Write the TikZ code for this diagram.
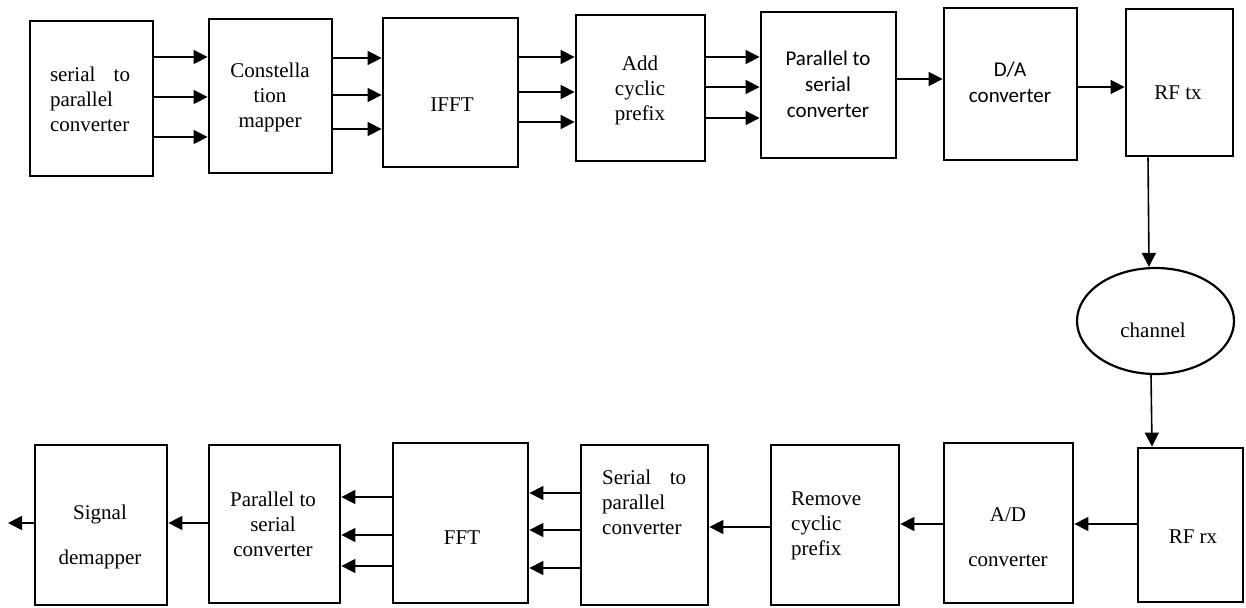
\documentclass[tikz,border=0pt]{standalone}
\usepackage{fontspec}
\setmainfont{Liberation Serif}
\newfontfamily\calibri{Carlito}
\usetikzlibrary{arrows.meta}
\usetikzlibrary{shapes.geometric}

\begin{document}
\begin{tikzpicture}[x=1pt, y=-1pt,
  blk/.style 2 args={draw=black, line width=2.8pt, minimum width=#1pt, minimum height=#2pt, inner sep=0pt},
  txt/.style={font=\fontsize{21}{25}\selectfont, align=center, inner sep=0pt},
  sans/.style={font=\calibri\fontsize{21}{26}\selectfont, align=center, inner sep=0pt},
  arr/.style={-{Triangle[length=14pt,width=14pt]}, line width=1.6pt}]
\useasboundingbox (0,0) rectangle (1246,607);

% transmitter blocks
\node[blk={123}{155}] (sp) at (91.5,98.5) {};
\node[blk={123}{154}] (cm) at (270.5,96) {};
\node[blk={135}{149}] (ifft) at (450.5,92.5) {};
\node[blk={129}{146}] (acp) at (640.5,88) {};
\node[blk={135}{146}] (pts) at (828.5,85) {};
\node[blk={133}{152}] (da) at (1010.5,84) {};
\node[blk={107}{147}] (rftx) at (1179.5,82.5) {};
\node[txt, text width=80pt, align=left] (sp-t) at (90,99) {serial\hfill to\\parallel\\converter};
\node[txt] (cm-t) at (270,97) {Constella\\tion\\mapper};
\node[txt] (ifft-t) at (452,105) {IFFT};
\node[txt] (acp-t) at (640,90) {Add\\cyclic\\prefix};
\node[sans] (pts-t) at (828,84) {Parallel to\\serial\\converter};
\node[sans] (da-t) at (1010,82) {D/A\\converter};
\node[txt] (rftx-t) at (1178,93) {RF tx};

% channel
\node[ellipse, draw=black, line width=2.2pt, minimum width=157pt, minimum height=106pt, inner sep=0pt] (ch) at (1155.5,321) {};
\node[txt] (ch-t) at (1153,330) {channel};

% receiver blocks
\node[blk={132}{160}] (dm) at (101,525) {};
\node[blk={131}{158}] (pst) at (274.5,524) {};
\node[blk={135}{160}] (fft) at (460.5,523) {};
\node[blk={127}{160}] (stp) at (644.5,525) {};
\node[blk={128}{160}] (rcp) at (835,525) {};
\node[blk={129}{160}] (ad) at (1008.5,523) {};
\node[blk={105}{154}] (rfrx) at (1190.5,525) {};
\node[txt] (dm-t) at (100,537) {Signal\\[20pt]demapper};
\node[txt] (pst-t) at (273,524) {Parallel to\\serial\\converter};
\node[txt] (fft-t) at (462,538) {FFT};
\node[txt, text width=84pt, align=left, anchor=west] (stp-t) at (602,502) {Serial\hfill to\\parallel\\converter};
\node[txt, align=left, anchor=west] (rcp-t) at (791,526) {Remove\\cyclic\\prefix};
\node[txt] (ad-t) at (1008,537) {A/D\\[20pt]converter};
\node[txt] (rfrx-t) at (1193,537) {RF rx};
\coordinate (out) at (8,523);

% transmitter arrows
\draw[arr] (sp.east |- 0,57) -- (cm.west |- 0,57);
\draw[arr] (sp.east |- 0,97) -- (cm.west |- 0,97);
\draw[arr] (sp.east |- 0,137) -- (cm.west |- 0,137);
\draw[arr] (cm.east |- 0,58) -- (ifft.west |- 0,58);
\draw[arr] (cm.east |- 0,95) -- (ifft.west |- 0,95);
\draw[arr] (cm.east |- 0,129) -- (ifft.west |- 0,129);
\draw[arr] (ifft.east |- 0,57) -- (acp.west |- 0,57);
\draw[arr] (ifft.east |- 0,92) -- (acp.west |- 0,92);
\draw[arr] (ifft.east |- 0,122) -- (acp.west |- 0,122);
\draw[arr] (acp.east |- 0,57) -- (pts.west |- 0,57);
\draw[arr] (acp.east |- 0,87) -- (pts.west |- 0,87);
\draw[arr] (acp.east |- 0,118) -- (pts.west |- 0,118);
\draw[arr] (pts.east |- 0,79) -- (da.west |- 0,79);
\draw[arr] (da.east |- 0,87) -- (rftx.west |- 0,87);

% through the channel
\draw[arr] (rftx.south -| 1148,0) -- (ch.north -| 1149,0);
\draw[arr] (ch.south -| 1151,0) -- (rfrx.north -| 1152,0);

% receiver arrows
\draw[arr] (rfrx.west |- 0,524) -- (ad.east |- 0,524);
\draw[arr] (ad.west |- 0,524) -- (rcp.east |- 0,524);
\draw[arr] (rcp.west |- 0,527) -- (stp.east |- 0,527);
\draw[arr] (stp.west |- 0,493) -- (fft.east |- 0,493);
\draw[arr] (stp.west |- 0,530) -- (fft.east |- 0,530);
\draw[arr] (stp.west |- 0,568) -- (fft.east |- 0,568);
\draw[arr] (fft.west |- 0,497) -- (pst.east |- 0,497);
\draw[arr] (fft.west |- 0,535) -- (pst.east |- 0,535);
\draw[arr] (fft.west |- 0,566) -- (pst.east |- 0,566);
\draw[arr] (pst.west |- 0,523) -- (dm.east |- 0,523);
\draw[arr] (dm.west |- 0,523) -- (out);
\end{tikzpicture}
\end{document}
